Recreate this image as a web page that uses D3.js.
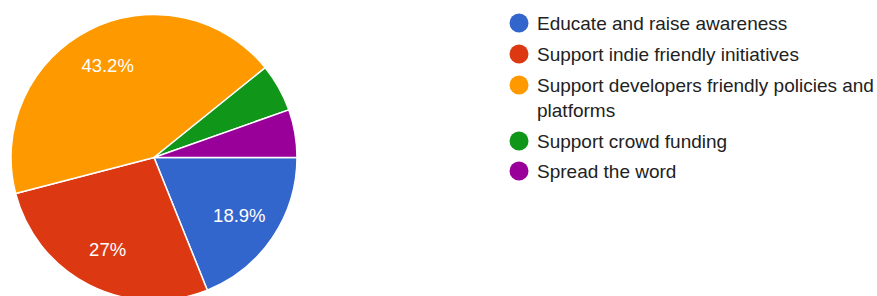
<!DOCTYPE html>
<html>
<head>
<meta charset="utf-8">
<script src="https://cdn.jsdelivr.net/npm/d3@7"></script>
<style>
  body { margin: 0; background: #fff; }
  svg { display: block; font-family: "Liberation Sans", Arial, sans-serif; }
</style>
</head>
<body>
<div id="chart"></div>
<script>
// answers (counts out of 37 responses)
const categories = [
  "Educate and raise awareness",
  "Support indie friendly initiatives",
  "Support developers friendly policies and platforms",
  "Support crowd funding",
  "Spread the word"
];
const values = [7, 10, 16, 2, 2];
const colors = ["#3366cc", "#dc3912", "#ff9900", "#109618", "#990099"];
// legend lines, as wrapped in the picture
const legendLines = [
  ["Educate and raise awareness"],
  ["Support indie friendly initiatives"],
  ["Support developers friendly policies and", "platforms"],
  ["Support crowd funding"],
  ["Spread the word"]
];

const width = 877, height = 296;
const cx = 154, cy = 157.5, radius = 143;

const svg = d3.select("#chart").append("svg")
  .attr("width", width)
  .attr("height", height);

const total = d3.sum(values);
const data = categories.map((c, i) => ({ name: c, value: values[i], color: colors[i] }));

// slices start at 3 o'clock and run clockwise
const pie = d3.pie()
  .value(d => d.value)
  .sort(null)
  .startAngle(Math.PI / 2)
  .endAngle(Math.PI / 2 + 2 * Math.PI);

const arc = d3.arc().innerRadius(0).outerRadius(radius);
const labelArc = d3.arc().innerRadius(103).outerRadius(103);

const g = svg.append("g").attr("transform", `translate(${cx},${cy})`);

const arcs = pie(data);

g.selectAll("path")
  .data(arcs)
  .enter()
  .append("path")
  .attr("d", arc)
  .attr("fill", d => d.data.color)
  .attr("stroke", "#fff")
  .attr("stroke-width", 1.5);

const fmt = v => {
  const p = Math.round(v / total * 1000) / 10;
  return (p % 1 === 0 ? p.toFixed(0) : p.toFixed(1)) + "%";
};

g.selectAll("text.pct")
  .data(arcs.filter(d => d.data.value / total > 0.1))
  .enter()
  .append("text")
  .attr("class", "pct")
  .attr("transform", d => `translate(${labelArc.centroid(d)})`)
  .attr("text-anchor", "middle")
  .attr("dy", "0.35em")
  .attr("fill", "#fff")
  .style("font-size", "18.5px")
  .text(d => fmt(d.data.value));

// legend
const legX = 519, legY = [23, 54, 85, 141, 171];
const legend = svg.append("g");

data.forEach((d, i) => {
  const row = legend.append("g").attr("transform", `translate(${legX},${legY[i]})`);
  row.append("circle")
    .attr("r", 9.5)
    .attr("fill", d.color);
  const t = row.append("text")
    .attr("fill", "#222")
    .style("font-size", "19px");
  legendLines[i].forEach((line, j) => {
    t.append("tspan")
      .attr("x", 18)
      .attr("dy", j === 0 ? "0.35em" : "25px")
      .text(line);
  });
});
</script>
</body>
</html>
